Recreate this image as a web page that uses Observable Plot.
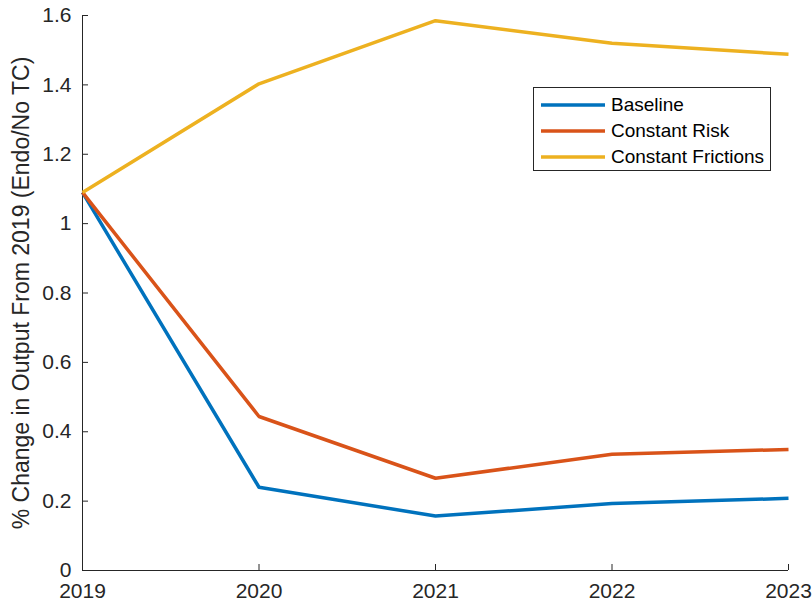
<!DOCTYPE html>
<html>
<head>
<meta charset="utf-8">
<script src="https://cdn.jsdelivr.net/npm/d3@7"></script>
<script src="https://cdn.jsdelivr.net/npm/@observablehq/plot@0.6"></script>
<style>
  html, body { margin: 0; padding: 0; background: #fff; }
  #wrap { position: relative; width: 812px; height: 604px; font-family: "Liberation Sans", Arial, Helvetica, sans-serif; }
  #legend { position: absolute; left: 533px; top: 87px; width: 238px; height: 84px; border: 1px solid #262626; background: #fff; box-sizing: border-box; padding-top: 4px; }
  .row { display: flex; align-items: center; height: 26px; font-size: 19px; color: #000; }
  .row svg { margin-left: 7px; margin-right: 6px; }
</style>
</head>
<body>
<div id="wrap"></div>
<script>
const years = [2019, 2020, 2021, 2022, 2023];
const seriesNames = ["Baseline", "Constant Risk", "Constant Frictions"];
const seriesColors = ["#0072BD", "#D95319", "#EDB120"];
const baseline = [1.09, 0.240, 0.157, 0.193, 0.208];
const constantRisk = [1.09, 0.444, 0.266, 0.335, 0.349];
const constantFrictions = [1.09, 1.403, 1.585, 1.520, 1.488];
const yTicks = [0, 0.2, 0.4, 0.6, 0.8, 1, 1.2, 1.4, 1.6];
const yLabel = "% Change in Output From 2019 (Endo/No TC)";

const allSeries = [baseline, constantRisk, constantFrictions];
const data = [];
allSeries.forEach((vals, i) => vals.forEach((v, j) => data.push({year: years[j], value: v, series: seriesNames[i]})));

const W = 812, H = 604, mL = 82, mR = 24, mT = 15, mB = 34;
const frameW = W - mL - mR, frameH = H - mT - mB;
const axisColor = "#262626";

const chart = Plot.plot({
  width: W, height: H,
  marginLeft: mL, marginRight: mR, marginTop: mT, marginBottom: mB,
  style: {fontFamily: "'Liberation Sans', Arial, Helvetica, sans-serif", background: "#fff", color: axisColor},
  x: {type: "linear", domain: [2019, 2023]},
  y: {domain: [0, 1.6]},
  color: {domain: seriesNames, range: seriesColors},
  marks: [
    Plot.axisX({ticks: years, tickFormat: d => String(d), tickSize: 0, tickPadding: 13, fontSize: 21, label: null, color: axisColor}),
    Plot.axisY({ticks: yTicks, tickFormat: d => d === 0 ? "0" : (Number.isInteger(d) ? String(d) : d.toFixed(1)), tickSize: 0, tickPadding: 11, fontSize: 21, label: yLabel, labelAnchor: "center", labelArrow: "none", labelOffset: 70, color: axisColor}),
    Plot.tickY(yTicks, {y: d => d, stroke: axisColor, strokeWidth: 1, insetRight: frameW - 6}),
    Plot.tickX(years, {x: d => d, stroke: axisColor, strokeWidth: 1, insetTop: frameH - 6}),
    Plot.ruleX([2019], {stroke: axisColor, strokeWidth: 1}),
    Plot.ruleY([0], {stroke: axisColor, strokeWidth: 1}),
    Plot.line(data, {x: "year", y: "value", z: "series", stroke: "series", strokeWidth: 3.5, strokeLinejoin: "round", strokeLinecap: "butt"})
  ]
});
const wrap = document.getElementById("wrap");
wrap.appendChild(chart);
const labelEl = chart.querySelector('[aria-label="y-axis label"] text');
if (labelEl) labelEl.setAttribute("font-size", 23);

const legend = document.createElement("div");
legend.id = "legend";
seriesNames.forEach((name, i) => {
  const row = document.createElement("div");
  row.className = "row";
  row.innerHTML = `<svg width="64" height="8"><line x1="0" x2="64" y1="4" y2="4" stroke="${seriesColors[i]}" stroke-width="3.5"/></svg><span>${name}</span>`;
  legend.appendChild(row);
});
wrap.appendChild(legend);
</script>
</body>
</html>
